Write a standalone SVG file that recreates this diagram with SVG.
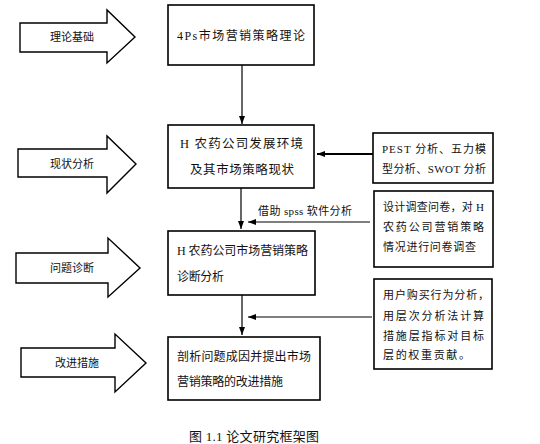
<svg xmlns="http://www.w3.org/2000/svg" width="540" height="444" viewBox="0 0 540 444">
<defs>
<style>
.box{fill:#fff;stroke:#000;stroke-width:1.6}
.blk{fill:#fff;stroke:#000;stroke-width:1.4;stroke-linejoin:miter}
.t{font-family:"Liberation Serif","Noto Sans CJK SC",serif;font-size:12px;fill:#111}
.s{font-family:"Liberation Serif","Noto Sans CJK SC",serif;font-size:11px;fill:#111}
.m{text-anchor:middle}
.c{fill:none;stroke:#000;stroke-width:1.2}
</style>
<marker id="ah" viewBox="0 0 8 6" refX="8" refY="3" markerWidth="8" markerHeight="6" markerUnits="userSpaceOnUse" orient="auto">
<path d="M0,0 L8,3 L0,6 z" fill="#000"/>
</marker>
</defs>
<rect width="540" height="444" fill="#fff"/>

<g id="stage1">
<polygon class="blk" points="20,23 107,23 107,10 135,37 107,63 107,52 20,52"/>
<text class="s m" x="72" y="41">理论基础</text>
</g>
<g id="stage2">
<polygon class="blk" points="18,149 107,149 107,136 136,164 107,193 107,177 18,177"/>
<text class="s m" x="72" y="168">现状分析</text>
</g>
<g id="stage3">
<polygon class="blk" points="16,253 108,253 108,238 140,268 108,297 108,283 16,283"/>
<text class="s m" x="72" y="272">问题诊断</text>
</g>
<g id="stage4">
<polygon class="blk" points="21,348 115,348 115,334 146,363 115,392 115,377 21,377"/>
<text class="s m" x="77" y="367">改进措施</text>
</g>

<g id="theory">
<rect class="box" x="168" y="5" width="146" height="60"/>
<text class="t" x="177" y="40" textLength="128" lengthAdjust="spacing">4Ps市场营销策略理论</text>
</g>
<g id="environment">
<rect class="box" x="168" y="125" width="146" height="63"/>
<text class="t" x="180" y="148" textLength="123" lengthAdjust="spacing" style="font-size:12.5px">H 农药公司发展环境</text>
<text class="t" x="190" y="174" textLength="104" lengthAdjust="spacing" style="font-size:12.5px">及其市场策略现状</text>
</g>
<g id="diagnosis">
<rect class="box" x="168" y="231" width="147" height="64"/>
<text class="t" x="177" y="255" textLength="131" lengthAdjust="spacing">H 农药公司市场营销策略</text>
<text class="t" x="177" y="281" textLength="47" lengthAdjust="spacing">诊断分析</text>
</g>
<g id="measures">
<rect class="box" x="168" y="337" width="152" height="63"/>
<text class="t" x="177" y="361" textLength="134" lengthAdjust="spacing">剖析问题成因并提出市场</text>
<text class="t" x="177" y="386" textLength="106" lengthAdjust="spacing">营销策略的改进措施</text>
</g>
<g id="pest">
<rect class="box" x="373" y="133" width="120" height="50"/>
<text class="s" x="382" y="153" textLength="104" lengthAdjust="spacing">PEST 分析、五力模</text>
<text class="s" x="382" y="173" textLength="104" lengthAdjust="spacing">型分析、SWOT 分析</text>
</g>
<g id="survey">
<rect class="box" x="374" y="191" width="119" height="76"/>
<text class="s" x="383" y="211" textLength="101" lengthAdjust="spacing">设计调查问卷，对 H</text>
<text class="s" x="383" y="231" textLength="101" lengthAdjust="spacing">农药公司营销策略</text>
<text class="s" x="383" y="251" textLength="93" lengthAdjust="spacing">情况进行问卷调查</text>
</g>
<g id="ahp">
<rect class="box" x="374" y="279" width="118" height="90"/>
<text class="s" x="383" y="299" textLength="106" lengthAdjust="spacing">用户购买行为分析，</text>
<text class="s" x="383" y="320" textLength="101" lengthAdjust="spacing">用层次分析法计算</text>
<text class="s" x="383" y="340" textLength="101" lengthAdjust="spacing">措施层指标对目标</text>
<text class="s" x="383" y="359" textLength="87" lengthAdjust="spacing">层的权重贡献。</text>
</g>

<g id="connectors">
<line class="c" x1="242" y1="65" x2="242" y2="124" marker-end="url(#ah)"/>
<line class="c" x1="241" y1="188" x2="241" y2="229" marker-end="url(#ah)"/>
<line class="c" x1="242" y1="295" x2="242" y2="335" marker-end="url(#ah)"/>
<line class="c" x1="373" y1="154" x2="317" y2="154" style="stroke-width:2" marker-end="url(#ah)"/>
<line class="c" x1="370" y1="222" x2="248" y2="222" marker-end="url(#ah)"/>
<line class="c" x1="372" y1="317" x2="248" y2="317" marker-end="url(#ah)"/>
<text class="s" x="258" y="215" textLength="94" lengthAdjust="spacing">借助 spss 软件分析</text>
</g>

<text class="t" x="189" y="441" textLength="130" lengthAdjust="spacing" style="font-size:13px">图 1.1 论文研究框架图</text>
</svg>
